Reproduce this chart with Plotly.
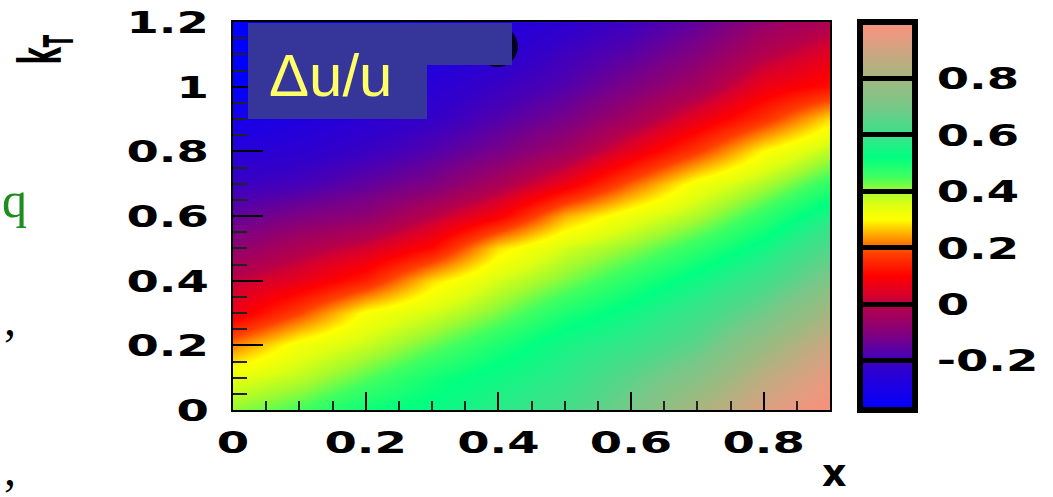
import plotly.graph_objects as go

# ---- data ----
x_vals = [0.0, 0.1, 0.2, 0.3, 0.4, 0.5, 0.6, 0.7, 0.8, 0.9]
kt_vals = [0.0, 0.1, 0.2, 0.3, 0.4, 0.5, 0.6, 0.7, 0.8, 0.9, 1.0, 1.1, 1.2]
# rows: one per kT value, columns: x values  (Delta u / u)
row_kt00 = [0.41, 0.45, 0.51, 0.53, 0.57, 0.62, 0.70, 0.82, 0.92, 1.00]
row_kt01 = [0.34, 0.38, 0.44, 0.50, 0.54, 0.58, 0.66, 0.74, 0.86, 0.95]
row_kt02 = [0.22, 0.32, 0.37, 0.43, 0.49, 0.55, 0.59, 0.66, 0.78, 0.89]
row_kt03 = [0.07, 0.18, 0.31, 0.36, 0.42, 0.49, 0.54, 0.60, 0.69, 0.81]
row_kt04 = [0.01, 0.06, 0.14, 0.28, 0.36, 0.42, 0.48, 0.54, 0.61, 0.72]
row_kt05 = [-0.08, -0.02, 0.03, 0.11, 0.28, 0.36, 0.41, 0.47, 0.54, 0.64]
row_kt06 = [-0.15, -0.11, -0.08, 0.00, 0.09, 0.25, 0.33, 0.39, 0.47, 0.56]
row_kt07 = [-0.21, -0.19, -0.15, -0.11, -0.03, 0.07, 0.20, 0.32, 0.39, 0.47]
row_kt08 = [-0.26, -0.24, -0.21, -0.17, -0.12, -0.05, 0.06, 0.17, 0.30, 0.38]
row_kt09 = [-0.31, -0.28, -0.25, -0.22, -0.17, -0.12, -0.04, 0.06, 0.16, 0.28]
row_kt10 = [-0.37, -0.34, -0.29, -0.25, -0.21, -0.17, -0.11, -0.04, 0.07, 0.12]
row_kt11 = [-0.40, -0.38, -0.34, -0.29, -0.25, -0.20, -0.16, -0.10, -0.01, 0.05]
row_kt12 = [-0.42, -0.42, -0.39, -0.33, -0.28, -0.24, -0.20, -0.15, -0.07, -0.02]
z_rows = [row_kt00, row_kt01, row_kt02, row_kt03, row_kt04, row_kt05, row_kt06,
          row_kt07, row_kt08, row_kt09, row_kt10, row_kt11, row_kt12]

x_ticks = [0, 0.2, 0.4, 0.6, 0.8]
x_tick_labels = ["0", "0.2", "0.4", "0.6", "0.8"]
y_ticks = [0, 0.2, 0.4, 0.6, 0.8, 1.0, 1.2]
y_tick_labels = ["0", "0.2", "0.4", "0.6", "0.8", "1", "1.2"]
cb_ticks = [-0.2, 0, 0.2, 0.4, 0.6, 0.8]
cb_labels = ["-0.2", "0", "0.2", "0.4", "0.6", "0.8"]

Z_MIN, Z_MAX = -0.375, 1.0

# palette (value -> colour)
pal_vals = [-0.375, -0.28, -0.22, -0.18, -0.12, -0.05, 0.0, 0.03, 0.1, 0.18, 0.22,
            0.3, 0.35, 0.4, 0.45, 0.52, 0.58, 0.64, 0.7, 0.8, 0.88, 0.95, 1.0]
pal_cols = ["rgb(0,0,255)", "rgb(32,0,224)", "rgb(52,0,200)", "rgb(76,0,178)",
            "rgb(120,0,136)", "rgb(160,0,96)", "rgb(184,0,72)", "rgb(215,0,45)",
            "rgb(255,0,0)", "rgb(255,64,0)", "rgb(255,128,0)", "rgb(255,255,0)",
            "rgb(224,255,16)", "rgb(160,250,48)", "rgb(64,255,96)", "rgb(0,255,128)",
            "rgb(48,232,136)", "rgb(80,216,136)", "rgb(120,200,136)", "rgb(160,184,128)",
            "rgb(200,168,128)", "rgb(232,154,128)", "rgb(248,144,122)"]
colorscale = [[(v - Z_MIN) / (Z_MAX - Z_MIN), c] for v, c in zip(pal_vals, pal_cols)]

W, H = 1053, 497
L, R, T, B = 233, 830, 22, 410          # plot area in pixels
pw, ph = R - L, B - T


def px(xp):
    return (xp - L) / pw


def py(yp):
    return (B - yp) / ph


bold = dict(family="DejaVu Sans", size=31, color="black", weight="bold")

fig = go.Figure(go.Heatmap(
    x=x_vals, y=kt_vals, z=z_rows, zmin=Z_MIN, zmax=Z_MAX,
    zsmooth="best", colorscale=colorscale, hoverinfo="skip",
    colorbar=dict(
        x=px(860), xanchor="left", xpad=0, y=0.5, yanchor="middle",
        len=1.0, lenmode="fraction", ypad=0, thickness=55,
        outlinewidth=6, outlinecolor="black",
        tickmode="array", tickvals=cb_ticks, ticktext=cb_labels,
        ticks="inside", ticklen=55, tickwidth=5, tickcolor="black",
        tickfont=bold,
    ),
))

fig.update_xaxes(
    range=[0, 0.9], tickmode="array", tickvals=x_ticks, ticktext=x_tick_labels,
    ticks="inside", ticklen=18, tickwidth=2, tickcolor="black",
    minor=dict(ticks="inside", ticklen=9, tickwidth=1.5, tickcolor="#222", dtick=0.05, tick0=0),
    showline=True, linecolor="black", linewidth=2, mirror=True,
    showgrid=False, zeroline=False, tickfont=bold, ticklabelstandoff=4,
)
fig.update_yaxes(
    range=[0, 1.2], tickmode="array", tickvals=y_ticks, ticktext=y_tick_labels,
    ticks="inside", ticklen=30, tickwidth=2, tickcolor="black",
    minor=dict(ticks="inside", ticklen=14, tickwidth=1.5, tickcolor="#222", dtick=0.05, tick0=0),
    showline=True, linecolor="black", linewidth=2, mirror=True,
    showgrid=False, zeroline=False, tickfont=bold, ticklabelstandoff=16,
)

box_col = "#36369A"
# dark blurred disc that sits behind the label box
shapes = [
    dict(type="circle", xref="paper", yref="paper", x0=px(477), x1=px(518),
         y0=py(67), y1=py(26), fillcolor="black", line=dict(width=0), opacity=0.85, layer="above"),
]

annotations = [
    # label box (two overlapping blue panels) drawn above the disc
    dict(text=" ", xref="paper", yref="paper", x=px(248), y=py(23),
         xanchor="left", yanchor="top", showarrow=False, width=264, height=42,
         bgcolor=box_col, borderpad=0, borderwidth=0, font=dict(size=4)),
    dict(text=" ", xref="paper", yref="paper", x=px(248), y=py(23),
         xanchor="left", yanchor="top", showarrow=False, width=179, height=96,
         bgcolor=box_col, borderpad=0, borderwidth=0, font=dict(size=4)),
    dict(text="\u0394u/u", xref="paper", yref="paper", x=px(331), y=py(76),
         xanchor="center", yanchor="middle", showarrow=False,
         font=dict(family="Liberation Sans", size=60, color="#FFFF66")),
    dict(text="k<sub>T</sub>", xref="paper", yref="paper", x=px(45), y=py(50),
         xanchor="center", yanchor="middle", showarrow=False, textangle=-90,
         font=dict(family="DejaVu Sans", size=58, color="black", weight="bold")),
    dict(text="x", xref="paper", yref="paper", x=px(834), y=py(497),
         xanchor="center", yanchor="bottom", showarrow=False,
         font=dict(family="DejaVu Sans", size=38, color="black", weight="bold")),
    dict(text="q", xref="paper", yref="paper", x=px(0), y=py(200),
         xanchor="left", yanchor="middle", showarrow=False,
         font=dict(family="Liberation Serif", size=50, color="#1E8C1E")),
    dict(text=",", xref="paper", yref="paper", x=px(10), y=py(318),
         xanchor="center", yanchor="middle", showarrow=False,
         font=dict(family="Liberation Serif", size=48, color="black")),
    dict(text=",", xref="paper", yref="paper", x=px(10), y=py(497),
         xanchor="center", yanchor="bottom", showarrow=False,
         font=dict(family="Liberation Serif", size=48, color="black")),
]

fig.update_layout(
    width=W, height=H,
    margin=dict(l=L, r=W - R, t=T, b=H - B, autoexpand=False),
    paper_bgcolor="white", plot_bgcolor="white",
    shapes=shapes, annotations=annotations, showlegend=False,
)

# the reference's lettering is drawn horizontally widened; widen the real text glyphs
post_js = """
(function(){
  function widen(){
    var gd = document.getElementById('{plot_id}');
    if(!gd) return;
    function apply(t, f, dx){
      if(!t.textContent || !t.textContent.trim()) return;
      if(!t.getAttribute('data-w')){ t.setAttribute('data-w', t.getComputedTextLength()); }
      var w = parseFloat(t.getAttribute('data-w'));
      if(w > 0){
        t.setAttribute('textLength', (w * f).toFixed(1));
        t.setAttribute('lengthAdjust', 'spacingAndGlyphs');
        if(dx){ t.setAttribute('dx', dx); }
      }
    }
    gd.querySelectorAll('g.xtick text, g.ytick text').forEach(function(t){ apply(t, 1.5, 0); });
    gd.querySelectorAll('g.colorbar text').forEach(function(t){ apply(t, 1.5, 12); });
    var texts = document.querySelectorAll('svg text');
    for (var i = 0; i < texts.length; i++){
      var t = texts[i];
      var s = (t.textContent || '').replace(/[\\u200b\\s]/g, '');
      if (s !== 'kT') continue;
      try {
        if (t.getAttribute('data-base') === null){
          t.setAttribute('data-base', t.getAttribute('transform') || '');
        }
        var bb = t.getBBox();
        var cx = bb.x + bb.width / 2;
        t.setAttribute('transform', t.getAttribute('data-base') +
          ' translate(' + cx + ',0) scale(0.45,1) translate(' + (-cx) + ',0)');
      } catch (e) {}
    }
  }
  widen();
  setTimeout(widen, 150);
  setTimeout(widen, 600);
})();
"""

fig.write_html("out.html", post_script=post_js)
